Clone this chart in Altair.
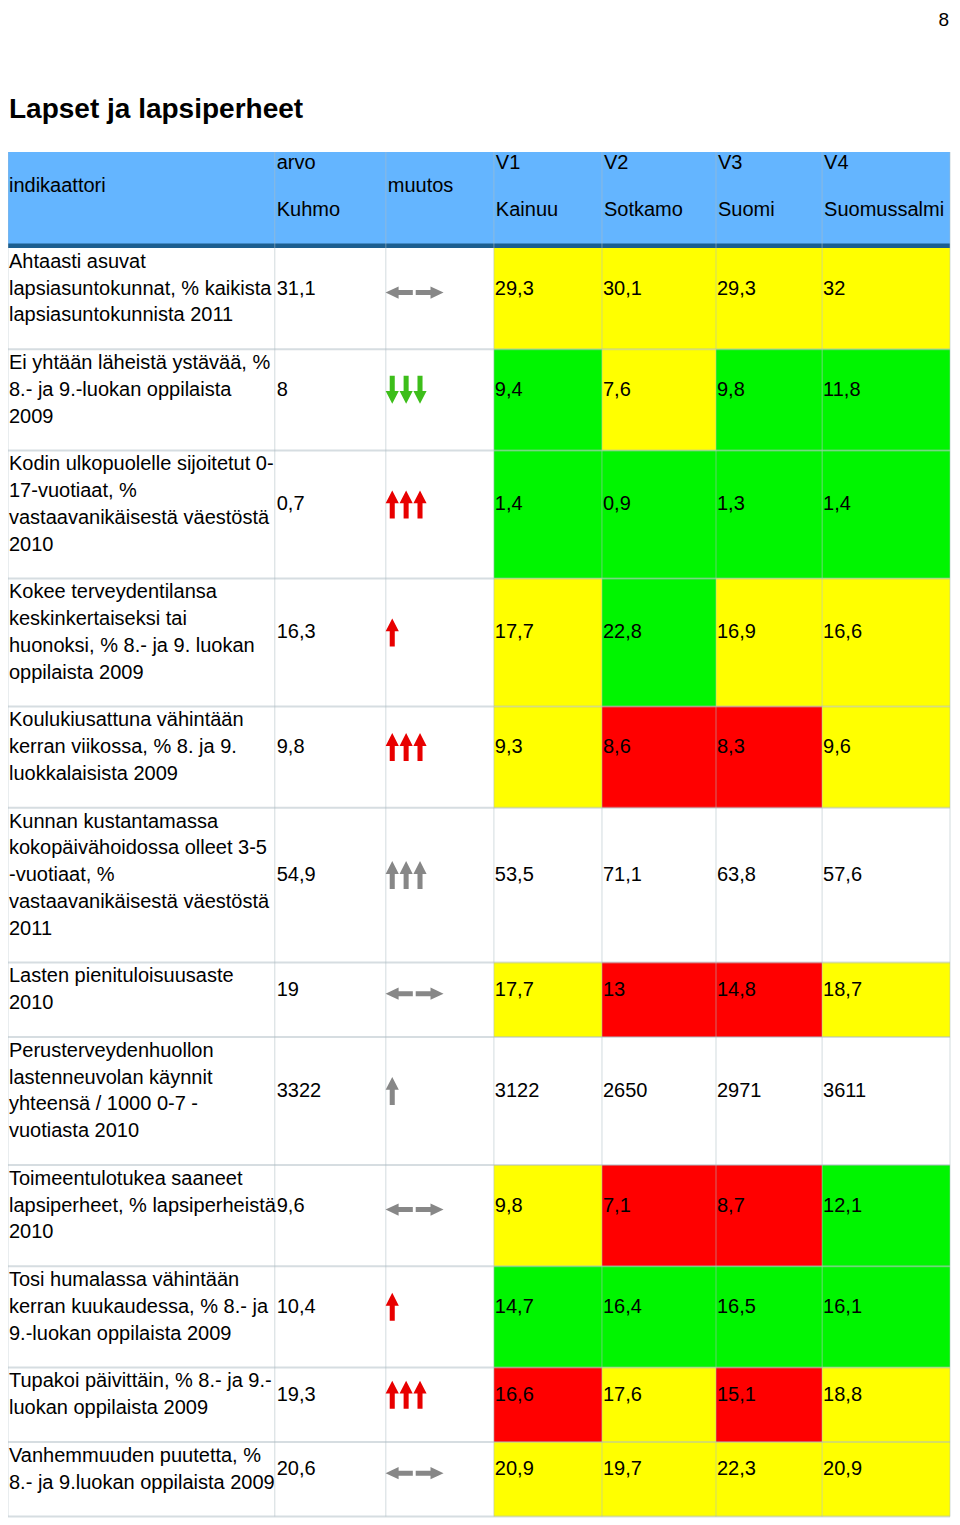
import altair as alt
import pandas as pd

# ---------------- data ----------------
page_number = "8"
title_text = "Lapset ja lapsiperheet"

column_top = ["", "arvo", "", "V1", "V2", "V3", "V4"]
column_bottom = ["", "Kuhmo", "", "Kainuu", "Sotkamo", "Suomi", "Suomussalmi"]
column_single = ["indikaattori", "", "muutos", "", "", "", ""]

indicators = [
    "Ahtaasti asuvat\nlapsiasuntokunnat, % kaikista\nlapsiasuntokunnista 2011",
    "Ei yhtään läheistä ystävää, %\n8.- ja 9.-luokan oppilaista\n2009",
    "Kodin ulkopuolelle sijoitetut 0-\n17-vuotiaat, %\nvastaavanikäisestä väestöstä\n2010",
    "Kokee terveydentilansa\nkeskinkertaiseksi tai\nhuonoksi, %  8.- ja 9. luokan\noppilaista 2009",
    "Koulukiusattuna vähintään\nkerran viikossa, % 8. ja 9.\nluokkalaisista 2009",
    "Kunnan kustantamassa\nkokopäivähoidossa olleet 3-5\n-vuotiaat, %\nvastaavanikäisestä väestöstä\n2011",
    "Lasten pienituloisuusaste\n2010",
    "Perusterveydenhuollon\nlastenneuvolan käynnit\nyhteensä / 1000 0-7 -\nvuotiasta 2010",
    "Toimeentulotukea saaneet\nlapsiperheet, % lapsiperheistä\n2010",
    "Tosi humalassa vähintään\nkerran kuukaudessa, % 8.- ja\n9.-luokan oppilaista 2009",
    "Tupakoi päivittäin, % 8.- ja 9.-\nluokan oppilaista 2009",
    "Vanhemmuuden puutetta, %\n8.- ja 9.luokan oppilaista 2009",
]
arvo_kuhmo = ["31,1", "8", "0,7", "16,3", "9,8", "54,9", "19", "3322", "9,6", "10,4", "19,3", "20,6"]

muutos_direction = ["both", "down", "up", "up", "up", "up", "both", "up", "both", "up", "up", "both"]
muutos_count = [1, 3, 3, 1, 3, 3, 1, 1, 1, 1, 3, 1]
muutos_tone = ["neutral", "good", "bad", "bad", "bad", "neutral", "neutral", "neutral",
               "neutral", "bad", "bad", "neutral"]

v1_kainuu = ["29,3", "9,4", "1,4", "17,7", "9,3", "53,5", "17,7", "3122", "9,8", "14,7", "16,6", "20,9"]
v2_sotkamo = ["30,1", "7,6", "0,9", "22,8", "8,6", "71,1", "13", "2650", "7,1", "16,4", "17,6", "19,7"]
v3_suomi = ["29,3", "9,8", "1,3", "16,9", "8,3", "63,8", "14,8", "2971", "8,7", "16,5", "15,1", "22,3"]
v4_suomussalmi = ["32", "11,8", "1,4", "16,6", "9,6", "57,6", "18,7", "3611", "12,1", "16,1", "18,8", "20,9"]

# cell class: y = yellow, g = green, r = red, w = no colour
v1_class = ["y", "g", "g", "y", "y", "w", "y", "w", "y", "g", "r", "y"]
v2_class = ["y", "y", "g", "g", "r", "w", "r", "w", "r", "g", "y", "y"]
v3_class = ["y", "g", "g", "y", "r", "w", "r", "w", "r", "g", "r", "y"]
v4_class = ["y", "g", "g", "y", "y", "w", "y", "w", "g", "g", "y", "y"]

v_values = [v1_kainuu, v2_sotkamo, v3_suomi, v4_suomussalmi]
v_classes = [v1_class, v2_class, v3_class, v4_class]

# ---------------- layout / style ----------------
FONT = "Liberation Sans"
FS = 20
COL_EDGES = [4, 273, 385, 494, 603, 718, 825, 954]
LEFT, RIGHT = COL_EDGES[0], COL_EDGES[-1]
HEAD_TOP, HEAD_BOTTOM = 152, 244
BODY_TOP = 248
LINE_H = 26.75
ROW_PAD = 21
FIRST_LINE = 13.8

CELL_COLORS = {"y": "#FFFF00", "g": "#00F500", "r": "#FF0000"}
TONE_COLORS = {"neutral": "#878787", "good": "#3DBE1A", "bad": "#E80000"}

UP = "M0,-1L0.47,-0.08L0.18,-0.08L0.18,1L-0.18,1L-0.18,-0.08L-0.47,-0.08Z"
DOWN = "M0,1L0.47,0.08L0.18,0.08L0.18,-1L-0.18,-1L-0.18,0.08L-0.47,0.08Z"
LR = ("M-1,0L-0.55,-0.21L-0.55,-0.085L-0.06,-0.085L-0.06,0.085L-0.55,0.085L-0.55,0.21Z"
      "M1,0L0.55,-0.21L0.55,-0.085L0.04,-0.085L0.04,0.085L0.55,0.085L0.55,0.21Z")

line_counts = [len(s.split("\n")) for s in indicators]
row_tops = []
yy = BODY_TOP
for n in line_counts:
    row_tops.append(yy)
    yy += ROW_PAD + LINE_H * n
table_bottom = yy
row_bottoms = row_tops[1:] + [table_bottom]
row_centers = [t + FIRST_LINE + (n - 1) * LINE_H / 2 for t, n in zip(row_tops, line_counts)]

# rectangles
rects = [
    dict(x=LEFT, x2=RIGHT, y=HEAD_TOP, y2=HEAD_BOTTOM, c="#64B5FF"),
    dict(x=LEFT, x2=RIGHT, y=HEAD_BOTTOM - 0.5, y2=BODY_TOP, c="#1B5E90"),
]
for j in range(4):
    for i in range(len(indicators)):
        cls = v_classes[j][i]
        if cls != "w":
            rects.append(dict(x=COL_EDGES[3 + j], x2=COL_EDGES[4 + j],
                              y=row_tops[i], y2=row_bottoms[i], c=CELL_COLORS[cls]))
rect_df = pd.DataFrame(rects)

# grid lines
hlines = [dict(x=LEFT, x2=RIGHT, y=b, y2=b) for b in row_bottoms]
vlines = [dict(x=e, x2=e, y=HEAD_TOP, y2=table_bottom) for e in COL_EDGES]
hline_df = pd.DataFrame(hlines)
vline_df = pd.DataFrame(vlines)

# texts
texts = []
for k in range(7):
    tx = COL_EDGES[k] + (1 if k == 0 else 2)
    if column_single[k]:
        texts.append(dict(x=tx, y=186, t=column_single[k]))
    if column_top[k]:
        texts.append(dict(x=tx, y=163, t=column_top[k]))
    if column_bottom[k]:
        texts.append(dict(x=tx, y=210, t=column_bottom[k]))
for i, lab in enumerate(indicators):
    for li, line in enumerate(lab.split("\n")):
        texts.append(dict(x=COL_EDGES[0] + 1, y=row_tops[i] + FIRST_LINE + li * LINE_H, t=line))
    texts.append(dict(x=COL_EDGES[1] + 2, y=row_centers[i], t=arvo_kuhmo[i]))
    for j in range(4):
        texts.append(dict(x=COL_EDGES[3 + j] + 1, y=row_centers[i], t=v_values[j][i]))
text_df = pd.DataFrame(texts)

# arrows
glyphs = []
for i in range(len(indicators)):
    col = TONE_COLORS[muutos_tone[i]]
    if muutos_direction[i] == "both":
        glyphs.append(dict(x=COL_EDGES[2] + 29, y=row_centers[i] + 4, shp=LR, sz=58 * 58, c=col))
    else:
        shp = UP if muutos_direction[i] == "up" else DOWN
        for k in range(muutos_count[i]):
            glyphs.append(dict(x=COL_EDGES[2] + 6.5 + 14 * k, y=row_centers[i], shp=shp, sz=28 * 28, c=col))
glyph_df = pd.DataFrame(glyphs)

title_df = pd.DataFrame([dict(x=5, y=110, t=title_text)])
page_df = pd.DataFrame([dict(x=953, y=11, t=page_number)])

# ---------------- chart ----------------
xs = alt.Scale(domain=[4, 956], nice=False, zero=False)
ys = alt.Scale(domain=[8, 1520], nice=False, zero=False, reverse=True)
X = lambda: alt.X("x:Q", scale=xs, axis=None)
Y = lambda: alt.Y("y:Q", scale=ys, axis=None)

rect_layer = alt.Chart(rect_df).mark_rect(strokeWidth=0).encode(
    x=X(), x2="x2:Q", y=Y(), y2="y2:Q", color=alt.Color("c:N", scale=None))

h_layer = alt.Chart(hline_df).mark_rule(color="#AEBCC4", opacity=0.5, strokeWidth=2).encode(
    x=X(), x2="x2:Q", y=Y(), y2="y2:Q")
v_layer = alt.Chart(vline_df).mark_rule(color="#AEBCC4", opacity=0.45, strokeWidth=1.2).encode(
    x=X(), x2="x2:Q", y=Y(), y2="y2:Q")

text_layer = alt.Chart(text_df).mark_text(
    align="left", baseline="middle", font=FONT, fontSize=FS, color="#000000").encode(
    x=X(), y=Y(), text="t:N")

title_layer = alt.Chart(title_df).mark_text(
    align="left", baseline="middle", font=FONT, fontSize=28, fontWeight="bold", color="#000000").encode(
    x=X(), y=Y(), text="t:N")

page_layer = alt.Chart(page_df).mark_text(
    align="right", baseline="top", font=FONT, fontSize=19, color="#000000").encode(
    x=X(), y=Y(), text="t:N")

glyph_layer = alt.Chart(glyph_df).mark_point(filled=True, opacity=1, strokeWidth=0).encode(
    x=X(), y=Y(),
    shape=alt.Shape("shp:N", scale=None),
    size=alt.Size("sz:Q", scale=None),
    color=alt.Color("c:N", scale=None))

chart = alt.layer(
    rect_layer, h_layer, v_layer, glyph_layer, text_layer, title_layer, page_layer
).properties(
    width=944, height=1512, padding=0,
    autosize=alt.AutoSizeParams(type="none"),
).configure_view(stroke=None)

chart.save("out.html", embed_options={"renderer": "svg", "actions": False})
